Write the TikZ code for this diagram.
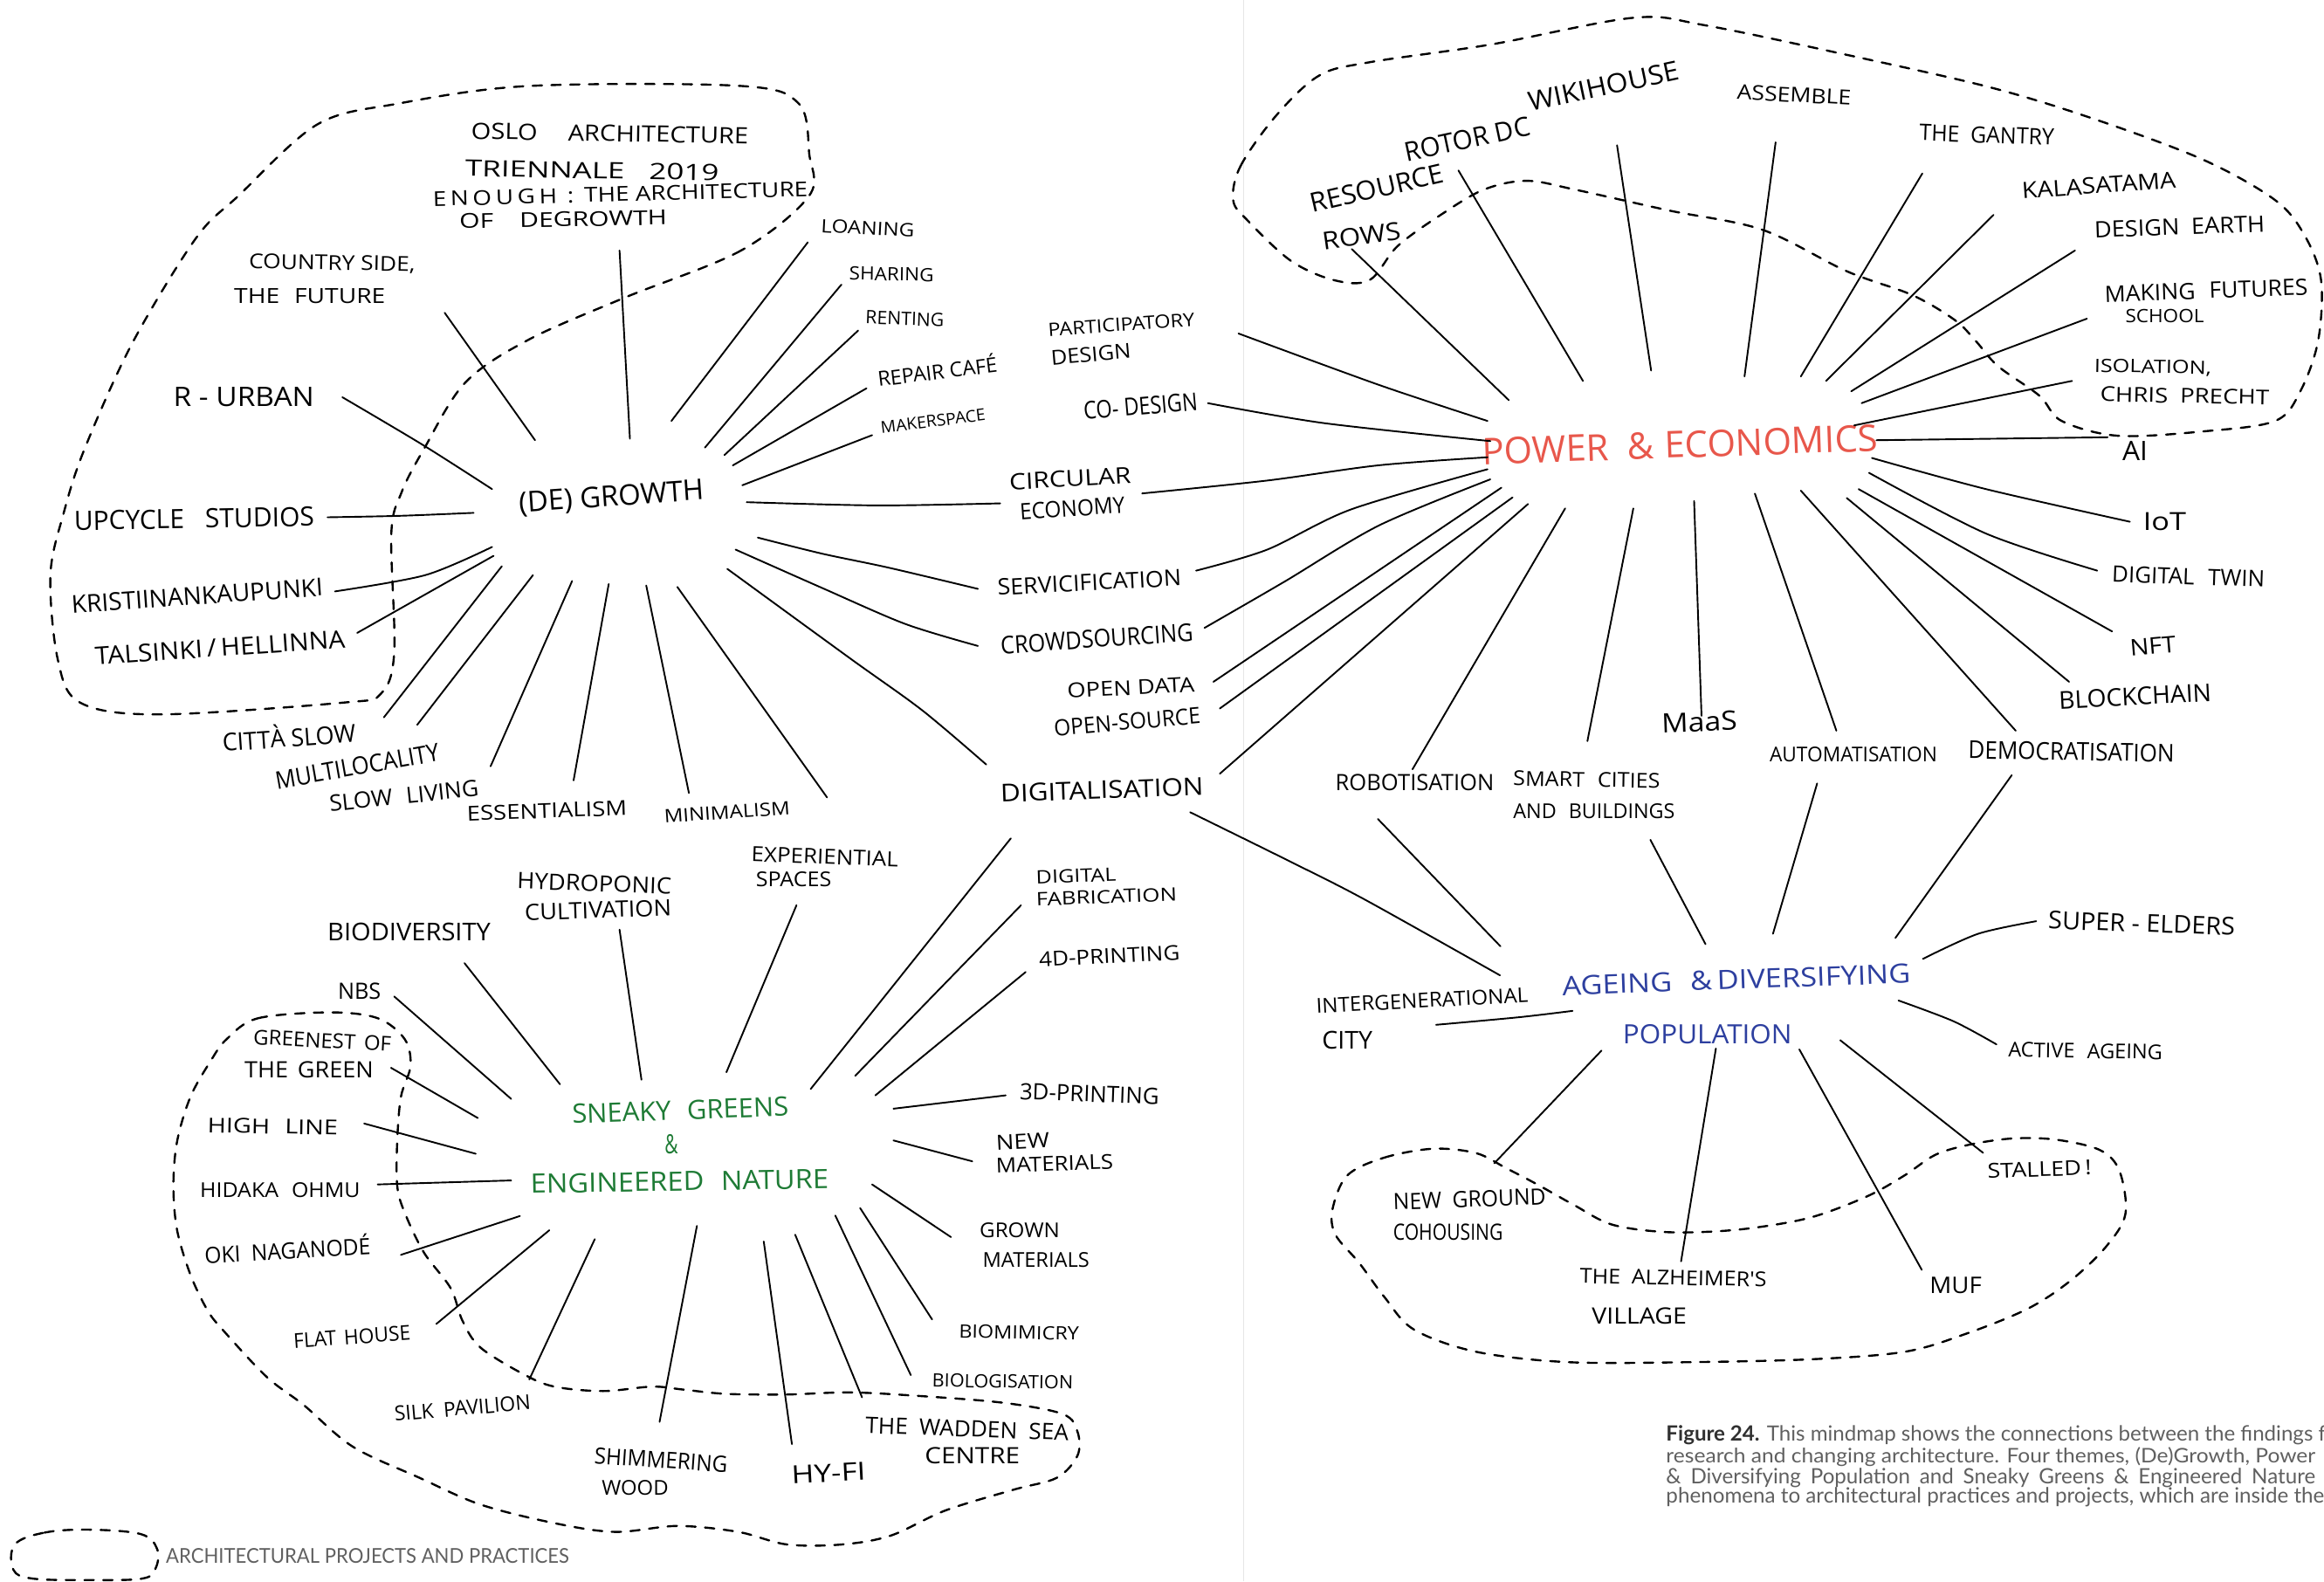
\documentclass[tikz,border=0pt]{standalone}
\usepackage{fontspec}
\usepackage{graphicx}
\newfontfamily\handfont{Open Sans}
\newfontfamily\capfont{Lato}
\definecolor{pered}{HTML}{E8574B}
\definecolor{agblue}{HTML}{2D3F9F}
\definecolor{sggreen}{HTML}{1E7B35}
\definecolor{capgray}{HTML}{606060}
\definecolor{capdark}{HTML}{303030}
\definecolor{gutter}{HTML}{E6E6E6}
\newlength\pxu
\setlength\pxu{0.05cm}
\newcommand\T[3]{\resizebox{#1\pxu}{#2\pxu}{#3}}
\newcommand\lbl[6]{\node[lab,rotate=#5] (#1) at (#2) {\T{#3}{#4}{#6}};}
\newcommand\spk[4]{\coordinate (#1a) at (#2);\coordinate (#1b) at (#4);\draw[spoke] plot[smooth,tension=0.5] coordinates {(#1a) #3 (#1b)};}
\begin{document}
\begin{tikzpicture}[x=0.05cm,y=-0.05cm,
 lab/.style={inner sep=0pt,font=\handfont},
 spoke/.style={line width=1.6pt,line cap=round,line join=round},
 region/.style={line width=2pt,dash pattern=on 9pt off 9pt,line cap=round}]
\useasboundingbox (0,0) rectangle (1568,1067);
\fill[white] (0,0) rectangle (1568,1067);
\draw[gutter,line width=0.8pt] (839,0) -- (839,1067);

% ---------------- regions ----------------
\draw[region] plot[smooth cycle,tension=0.55] coordinates {(546,132) (500,169) (421,201) (357,229) (314,258) (286,303) (271,332) (264,360) (266,440) (257,468) (232,474) (107,482) (54,474) (39,445) (34,388) (43,346) (57,303) (89,232) (132,161) (161,132) (214,84) (268,70) (357,58) (500,58) (539,70) (546,104)};
\draw[region] plot[smooth cycle,tension=0.55] coordinates {(832,135) (837,112) (861,78) (890,51) (924,42) (1006,30) (1102,12) (1150,17) (1246,37) (1343,59) (1415,81) (1487,108) (1535,135) (1555,159) (1566,189) (1564,230) (1552,264) (1535,284) (1487,291) (1429,294) (1391,284) (1376,267) (1348,247) (1333,230) (1319,216) (1290,199) (1246,183) (1189,155) (1126,142) (1063,128) (1030,122) (1001,128) (972,145) (943,166) (924,189) (900,189) (871,176) (842,149)};
\draw[region] plot[smooth cycle,tension=0.55] coordinates {(909,793) (934,781) (967,775) (996,778) (1016,788) (1037,799) (1062,813) (1087,826) (1120,831) (1153,831) (1186,828) (1223,821) (1260,807) (1285,793) (1306,779) (1330,772) (1359,768) (1388,769) (1417,776) (1430,790) (1434,819) (1421,841) (1397,864) (1368,883) (1326,900) (1285,912) (1223,917) (1140,919) (1058,919) (996,912) (954,897) (934,875) (917,852) (901,833) (899,816)};
\draw[region] plot[smooth cycle,tension=0.55] coordinates {(153,701) (174,687) (223,683) (255,687) (273,701) (277,719) (270.5,740) (268,770) (268,800) (273,818) (286,845) (304,869) (312,891) (324,909) (353,927) (374,935.5) (407,938.5) (440,935.5) (461,937.5) (490,940.4) (531,940.8) (572,939.4) (614,941.4) (676,946.3) (717,954) (727,966) (727,982) (713,997) (684,1005) (638,1019) (601,1036) (568,1042) (531,1042) (498,1033.5) (457,1029.5) (415,1033.5) (374,1027.6) (324,1015) (283,997) (238,976) (205,948) (180,929) (151,898) (140,884) (128.5,860) (119.5,830) (117,800) (119.5,770) (128.5,740) (142,716)};

% ---------------- (De)Growth ----------------
\node[lab,rotate=4] (dgHub) at (412.5,336) {\T{125}{14}{(DE) GROWTH}};
\lbl{dgOslo}{411.5,90}{187}{11}{-1}{OSLO\hspace{1.2em}ARCHITECTURE}
\lbl{dgTrien}{399.5,115}{171}{11}{-1}{TRIENNALE\hspace{0.8em}2019}
\lbl{dgEnough}{418.5,131}{253}{10}{1.5}{E\,N\,O\,U\,G\,H\, :\, THE ARCHITECTURE}
\lbl{dgOf}{380,148}{140}{10}{1}{OF\hspace{1em}DEGROWTH}
\lbl{dgCountry}{224,178}{112}{10}{-1}{COUNTRY SIDE,}
\lbl{dgFuture}{209,200}{102}{10}{0}{THE\hspace{0.6em}FUTURE}
\lbl{dgRurban}{164.5,268}{95}{13}{0}{R - URBAN}
\lbl{dgUpcycle}{131,350}{162}{13}{1}{UPCYCLE\hspace{0.8em}STUDIOS}
\lbl{dgKristi}{133,402}{170}{12}{4}{KRISTIINANKAUPUNKI}
\lbl{dgTalsinki}{148.5,437}{169}{12}{4}{TALSINKI\,/\,HELLINNA}
\lbl{dgCitta}{195,498}{90}{12}{4}{CITT\smash{À} SLOW}
\lbl{dgMulti}{241,517}{112}{12}{10}{MULTILOCALITY}
\lbl{dgSlow}{272.5,537}{101}{11}{6}{SLOW\hspace{0.6em}LIVING}
\lbl{dgEssent}{369,547}{108}{10}{2}{ESSENTIALISM}
\lbl{dgMinim}{490.5,548}{85}{9}{4}{MINIMALISM}
\lbl{dgLoan}{585.5,154}{63}{9}{-3}{LOANING}
\lbl{dgShare}{601.5,185}{57}{9}{-1}{SHARING}
\lbl{dgRent}{610.5,215}{53}{9}{-2}{RENTING}
\lbl{dgRepair}{632.5,251}{81}{10}{7}{REPAIR CAF\smash{É}}
\lbl{dgMaker}{629.5,284}{71}{8}{7}{MAKERSPACE}
\lbl{shPartic}{756.5,219}{99}{9}{4}{PARTICIPATORY}
\lbl{shDesign}{736,239}{54}{10}{5}{DESIGN}
\lbl{shCodes}{769.5,274}{77}{12}{5}{CO- DESIGN}
\lbl{shCirc}{722,323}{82}{11}{3}{CIRCULAR}
\lbl{shEcon}{723.5,343}{71}{11}{4}{ECONOMY}
\lbl{shServ}{735,393}{124}{11}{3}{SERVICIFICATION}
\lbl{shCrowd}{740,431}{130}{12}{4}{CROWDSOURCING}
\lbl{shOpenD}{763,464}{86}{10}{3}{OPEN DATA}
\lbl{shOpenS}{760.5,487}{99}{11}{5}{OPEN-SOURCE}
\lbl{shDigit}{743.5,533}{137}{12}{2}{DIGITALISATION}

\spk{s01}{418,169}{}{425,296}
\spk{s02}{300,211}{}{361,297}
\spk{s03}{231,268}{(285,300)}{332,330}
\spk{s04}{221,349}{(270,348)}{319.5,346}
\spk{s05}{226,399}{(287,388)}{332,369}
\spk{s06}{241,427}{}{333,375}
\spk{s07}{259,484}{}{338.6,382}
\spk{s08}{281.5,489}{}{359.6,388}
\spk{s09}{331,517}{}{386,392}
\spk{s10}{387,526.5}{}{410.7,394}
\spk{s11}{464.8,535}{}{436,395}
\spk{s12}{558,538}{}{457,396}
\spk{s13}{453,284}{}{545,163.5}
\spk{s14}{475.6,302}{}{567.7,192}
\spk{s15}{488.8,307}{}{579,223}
\spk{s16}{494.4,314}{}{584.6,262}
\spk{s17}{500.8,327.4}{}{588.4,293.6}
\spk{s18}{503.8,338.8}{(592,341)}{674.8,339.6}
\spk{s19}{511.3,362.7}{(554.5,373.5) (599.6,383)}{659.8,397.3}
\spk{s20}{496.3,370.8}{(554.5,396.6) (610.9,421)}{659.8,435.8}
\spk{s21}{490.7,383.8}{(573.3,444) (622.2,479.2)}{665.4,515.8}

% ---------------- Power & Economics ----------------
\node[lab,text=pered,rotate=2] (peHub) at (1133.5,300) {\T{267}{18}{POWER\hspace{0.5em}\&\hspace{0.3em}ECONOMICS}};
\lbl{peRes}{929,127}{92}{13}{13}{RESOURCE}
\lbl{peRows}{918.5,159}{53}{12}{8}{ROWS}
\lbl{peRotor}{990,94}{86}{13}{12}{ROTOR DC}
\lbl{peWiki}{1082,58}{103}{13}{12}{WIKIHOUSE}
\lbl{peAssem}{1210.5,64}{77}{10}{-3}{ASSEMBLE}
\lbl{peGantry}{1340.5,91}{91}{11}{-2}{THE\hspace{0.5em}GANTRY}
\lbl{peKala}{1416,125}{104}{11}{4}{KALASATAMA}
\lbl{peDesignE}{1470.5,153}{115}{11}{2}{DESIGN\hspace{0.5em}EARTH}
\lbl{peMaking}{1488.5,196}{137}{11}{2}{MAKING\hspace{0.6em}FUTURES}
\lbl{peSchool}{1460.5,213}{53}{9}{0}{SCHOOL}
\lbl{peIsol}{1452.5,248}{79}{9}{-1}{ISOLATION,}
\lbl{peChris}{1474,267}{114}{10}{-1}{CHRIS\hspace{0.5em}PRECHT}
\lbl{peAI}{1440.5,304}{17}{13}{0}{AI}
\lbl{peIoT}{1460.5,352}{29}{12}{0}{IoT}
\lbl{peTwin}{1476.5,389}{103}{11}{-2}{DIGITAL\hspace{0.6em}TWIN}
\lbl{peNFT}{1452.5,436}{31}{11}{5}{NFT}
\lbl{peBlock}{1440.5,470}{103}{12}{3}{BLOCKCHAIN}
\lbl{peMaas}{1146.5,487}{51}{13}{2}{MaaS}
\lbl{peAuto}{1250.5,509}{113}{10}{0}{AUTOMATISATION}
\lbl{peDemo}{1397.5,507}{139}{12}{-1}{DEMOCRATISATION}
\lbl{peRobot}{954.5,528}{107}{11}{0}{ROBOTISATION}
\lbl{peSmart}{1070.5,526}{99}{10}{-1}{SMART\hspace{0.6em}CITIES}
\lbl{peBuild}{1075.5,547}{109}{10}{0}{AND\hspace{0.6em}BUILDINGS}

\spk{p01}{835.6,225}{(930.4,259.7)}{1003.6,284}
\spk{p02}{815,272}{(892.8,285.4)}{1005.5,297.6}
\spk{p03}{770.6,332.9}{(855,324.2) (930.4,313.9)}{1003.6,308.5}
\spk{p04}{807,385}{(855,370.8) (911.5,343.7)}{1003.6,316.6}
\spk{p05}{812.7,423.6}{(866.5,392.5) (930.4,354.5)}{1005.5,323.4}
\spk{p06}{818.7,460}{}{1013,329}
\spk{p07}{823,478}{}{1020.5,335.6}
\spk{p08}{823,522}{}{1031,340}
\spk{p09}{912,168}{}{1018,270}
\spk{p10}{984,115}{}{1068,257}
\spk{p11}{1091,98}{}{1114,250}
\spk{p12}{1198,96}{}{1177,254}
\spk{p13}{1297,117}{}{1215,254}
\spk{p14}{1345,145}{}{1232,257}
\spk{p15}{1400,169}{}{1249,264}
\spk{p16}{1408,215}{}{1256,272}
\spk{p17}{1398,257}{}{1251,287}
\spk{p18}{1266,297}{}{1422,295}
\spk{p19}{1263,309}{(1340,330)}{1437,352}
\spk{p20}{1261,319}{(1340,360)}{1415,385}
\spk{p21}{1254,330}{}{1425,426}
\spk{p22}{1246,336}{}{1396,460}
\spk{p23}{1215,331}{}{1360,493}
\spk{p24}{1184,333}{}{1239,493}
\spk{p25}{1143,338}{}{1148,483}
\spk{p26}{1102,343}{}{1071,500}
\spk{p27}{1056,343}{}{953,519}

% ---------------- Ageing & Diversifying Population ----------------
\node[lab,text=agblue,rotate=2] (agHubA) at (1171.5,661) {\T{235}{13}{AGEING\hspace{0.6em}\&\,DIVERSIFYING}};
\node[lab,text=agblue] (agHubB) at (1152,698) {\T{114}{13}{POPULATION}};
\lbl{agSuper}{1445,623}{126}{12}{-2}{SUPER - ELDERS}
\lbl{agInter}{959.5,675}{143}{10}{3}{INTERGENERATIONAL}
\lbl{agCity}{909,702}{34}{12}{0}{CITY}
\lbl{agActive}{1407,709}{104}{10}{-1}{ACTIVE\hspace{0.6em}AGEING}
\lbl{agStalled}{1376,789}{70}{10}{2}{STALLED\,!}
\lbl{agNew}{991.5,809}{103}{11}{2}{NEW\hspace{0.5em}GROUND}
\lbl{agCoh}{977,831}{74}{11}{0}{COHOUSING}
\lbl{agAlz}{1129,862}{126}{10}{-1}{THE\hspace{0.5em}ALZHEIMER'S}
\lbl{agVill}{1106,888}{64}{11}{0}{VILLAGE}
\lbl{agMuf}{1319.5,867}{35}{11}{0}{MUF}

\spk{a01}{929.6,552.5}{}{1012.3,638.4}
\spk{a02}{803,548}{(872,582) (921,607)}{1012,658}
\spk{a03}{1113.5,566.6}{}{1150.7,637}
\spk{a04}{1226,528.6}{}{1196.2,630}
\spk{a05}{1357.3,523}{}{1278.8,632.8}
\spk{a06}{1373.8,621.5}{(1334.6,630)}{1297.4,646.9}
\spk{a07}{968.9,691.4}{(1024.7,686.3)}{1061,682}
\spk{a08}{1280.9,675}{(1318,689)}{1347,704.6}
\spk{a09}{1080.5,708.8}{}{1008.2,784.8}
\spk{a10}{1157.7,707.4}{}{1134.2,851}
\spk{a11}{1214,708}{}{1296.6,856.7}
\spk{a12}{1241.6,701.8}{}{1338,777.8}

% ---------------- Sneaky Greens & Engineered Nature ----------------
\node[lab,text=sggreen,rotate=2] (sgHubA) at (459,749) {\T{146}{13}{SNEAKY\hspace{0.6em}GREENS}};
\node[lab,text=sggreen] (sgHubB) at (453,772) {\T{9}{13}{\&}};
\node[lab,text=sggreen,rotate=1] (sgHubC) at (458.5,797) {\T{201}{13}{ENGINEERED\hspace{0.6em}NATURE}};
\lbl{sgExp}{556.5,578}{99}{10}{-2}{EXPERIENTIAL}
\lbl{sgSpaces}{535.5,593}{51}{10}{0}{SPACES}
\lbl{sgHydro}{401,596}{104}{11}{-2}{HYDROPONIC}
\lbl{sgCult}{403.5,614}{99}{11}{2}{CULTIVATION}
\lbl{sgBio}{276,629}{110}{12}{0}{BIODIVERSITY}
\lbl{sgNbs}{242.5,669}{29}{11}{0}{NBS}
\lbl{sgGreenest}{217.5,702}{93}{10}{-3}{GREENEST\hspace{0.4em}OF}
\lbl{sgTheGreen}{208.5,722}{87}{11}{0}{THE\hspace{0.4em}GREEN}
\lbl{sgHigh}{184,760}{88}{10}{-1}{HIGH\hspace{0.6em}LINE}
\lbl{sgHidaka}{189,803}{108}{10}{0}{HIDAKA\hspace{0.6em}OHMU}
\lbl{sgOki}{194,844}{112}{11}{3}{OKI\hspace{0.5em}NAGANOD\smash{É}}
\lbl{sgFlat}{237.5,902}{79}{10}{4}{FLAT\hspace{0.4em}HOUSE}
\lbl{sgSilk}{312,950}{92}{10}{5}{SILK\hspace{0.5em}PAVILION}
\lbl{sgShim}{446,985}{90}{11}{-4}{SHIMMERING}
\lbl{sgWood}{428.5,1004}{45}{10}{0}{WOOD}
\lbl{sgHyfi}{559,994}{50}{12}{3}{HY-FI}
\lbl{sgWadden}{652.5,964}{137}{11}{-2}{THE\hspace{0.5em}WADDEN\hspace{0.5em}SEA}
\lbl{sgCentre}{656,982}{64}{11}{0}{CENTRE}
\lbl{sgBiolog}{676.5,932}{95}{9}{-1}{BIOLOGISATION}
\lbl{sgBiomim}{687.5,899}{81}{9}{-1}{BIOMIMICRY}
\lbl{sgGrown}{688,830}{54}{10}{0}{GROWN}
\lbl{sgGrownM}{699,850}{72}{10}{0}{MATERIALS}
\lbl{sgNew}{690,770}{36}{10}{3}{NEW}
\lbl{sgNewM}{711.5,785}{79}{10}{2}{MATERIALS}
\lbl{sgThreeD}{735,738}{94}{11}{-2}{3D-PRINTING}
\lbl{sgFourD}{748.5,645}{95}{10}{3}{4D-PRINTING}
\lbl{sgDigital}{726,591}{54}{9}{2}{DIGITAL}
\lbl{sgFab}{746.5,605}{95}{9}{2}{FABRICATION}

\spk{g01}{266,672.3}{}{344.9,741.4}
\spk{g02}{313.4,649.8}{}{377.8,731.5}
\spk{g03}{418,627.2}{}{432.8,728.5}
\spk{g04}{537.4,610.7}{}{490.1,723.4}
\spk{g05}{682,565.6}{}{546.9,734.8}
\spk{g06}{688.9,610.7}{}{577,725.8}
\spk{g07}{692,655.8}{}{590.6,739}
\spk{g08}{678.5,739}{}{602.8,748}
\spk{g09}{656,783.5}{}{602.8,769.4}
\spk{g10}{641.6,834.6}{}{588.4,799.1}
\spk{g11}{628.9,890.2}{}{580.3,815}
\spk{g12}{614.5,927.7}{}{563.6,820.1}
\spk{g13}{581.6,942.7}{}{536.5,833}
\spk{g14}{534.3,974.3}{}{515.3,837.6}
\spk{g15}{445,959.3}{}{470.2,827.1}
\spk{g16}{357.1,930.7}{}{401.3,836}
\spk{g17}{294.4,893.2}{}{370.6,830}
\spk{g18}{270.5,846.6}{}{350.8,820.4}
\spk{g19}{254.8,799.1}{}{344.9,796.4}
\spk{g20}{245.7,758}{}{321,778.4}
\spk{g21}{263.8,720.4}{}{322.4,754.3}

% ---------------- legend ----------------
\draw[region] plot[smooth cycle,tension=0.6] coordinates {(10,1042) (30,1034) (60,1032) (95,1035) (106,1045) (105,1058) (96,1065) (60,1066) (22,1065) (9,1059)};
\node[inner sep=0pt,text=capgray,font=\capfont] (legend) at (248,1049.5) {\T{272}{10}{ARCHITECTURAL PROJECTS AND PRACTICES}};

% ---------------- caption ----------------
\begin{scope}
\clip (0,0) rectangle (1568,1067);
\node[inner sep=0pt,anchor=west,font=\capfont,text=capgray] (capA) at (1124,968) {\T{445}{10.5}{{\bfseries\color{capdark}Figure 24.} This mindmap shows the connections between the findings f}};
\node[inner sep=0pt,anchor=west,font=\capfont,text=capgray] (capB) at (1124,983) {\T{438}{10.5}{research and changing architecture. Four themes, (De)Growth, Power}};
\node[inner sep=0pt,anchor=west,font=\capfont,text=capgray] (capC) at (1124,997) {\T{438}{10.5}{\&\hspace{0.45em}Diversifying\hspace{0.45em}Population\hspace{0.45em}and\hspace{0.45em}Sneaky\hspace{0.45em}Greens\hspace{0.45em}\&\hspace{0.45em}Engineered\hspace{0.45em}Nature}};
\node[inner sep=0pt,anchor=west,font=\capfont,text=capgray] (capD) at (1124,1010) {\T{444}{10.5}{phenomena to architectural practices and projects, which are inside the}};
\end{scope}
\end{tikzpicture}
\end{document}
